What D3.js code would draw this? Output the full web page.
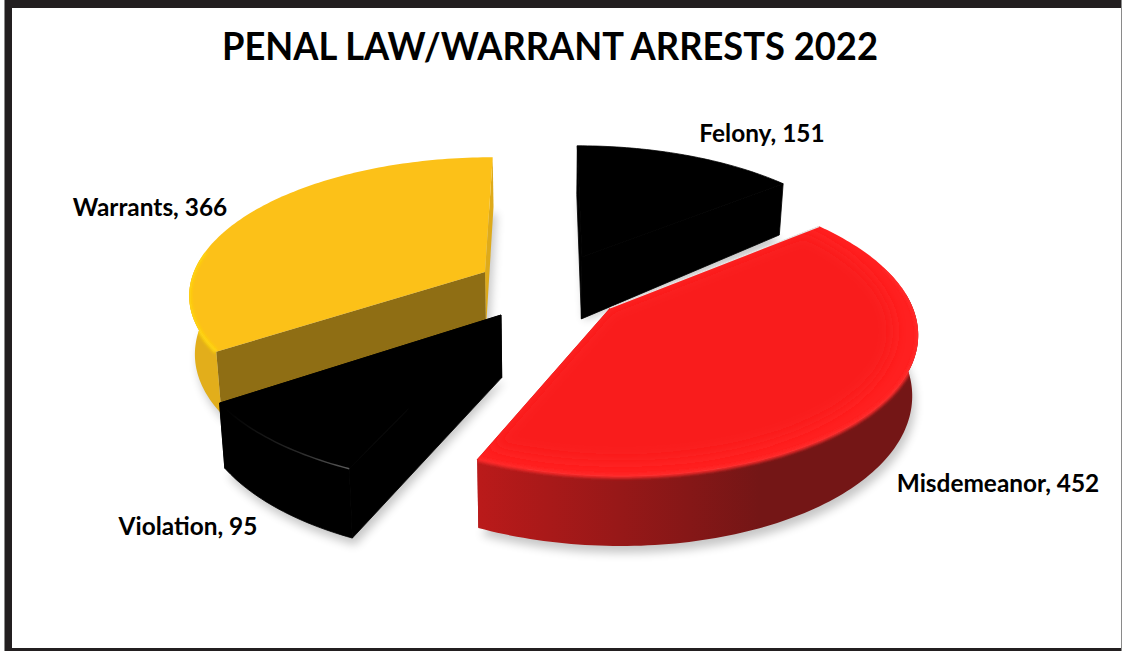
<!DOCTYPE html>
<html>
<head>
<meta charset="utf-8">
<script src="https://cdn.jsdelivr.net/npm/d3@7"></script>
<style>
  html, body { margin: 0; padding: 0; background: #fff; }
  svg { display: block; }
  text { font-family: Lato, "Open Sans", sans-serif; font-weight: 700; fill: #000; }
</style>
</head>
<body>
<svg width="1122" height="651"></svg>
<script>
var categories = ["Felony", "Misdemeanor", "Violation", "Warrants"];
var values = [151, 452, 95, 366];

// screen position of each slice's tip, and of its label
var tips = [[582, 257], [610, 308], [501, 315], [485, 272]];
var tipDrop = [6, 0, 3, 0];
var labelPos = [[762, 142], [998, 492], [188, 535], [150, 216]];

var topColors = ["#000000", "#f91c1c", "#000000", "#fcc118"];
var baseColors = ["#000000", "#ff2020", "#000000", "#fcc118"];
var rimColors = ["#000000", "#ff2a2a", "#000000", "#ffd60a"];
var wallColors = ["#000000", "url(#redWall)", "#000000", "#e2ae1b"];
var cutColors = ["#000000", "#a81818", "#000000", "#8f6e14"];
var edgeColors = ["#000000", "#a81818", "#000000", "#deaa1a"];

// perspective of the pie plane
var cx = 545, cy = 290, rx = 297, ry = 137, persp = 0.15, depth = 58, shrink = 0.016;

function project(u, v, drop) {
    var w = 1 - persp * v;
    var x = rx * u / w;
    return [cx + x * (drop ? 1 - shrink : 1), cy + ry * v / w + (drop ? depth / w : 0)];
}

function offsetFromTip(tip) {
    var Y = tip[1] - cy;
    var v = Y / (ry + persp * Y);
    var u = (tip[0] - cx) * (1 - persp * v) / rx;
    return [u, v];
}

var pie = d3.pie().sort(null).startAngle(0).endAngle(2 * Math.PI);
var line = d3.line();

var slices = pie(values).map(function(d, i) {
    return {
        i: i,
        start: d.startAngle,
        end: d.endAngle,
        off: offsetFromTip(tips[i])
    };
});

function rimPoint(s, a, scale, drop) {
    return project(s.off[0] + scale * Math.sin(a), s.off[1] - scale * Math.cos(a), drop);
}

function rim(s, scale, drop, from, to) {
    var a0 = from === undefined ? s.start : from;
    var a1 = to === undefined ? s.end : to;
    var n = Math.ceil((a1 - a0) / 0.02);
    return d3.range(n + 1).map(function(k) {
        return rimPoint(s, a0 + (a1 - a0) * k / n, scale, drop);
    });
}

function topPath(s, scale, drop) {
    return line([project(s.off[0], s.off[1], drop)].concat(rim(s, scale === undefined ? 1 : scale, drop))) + "Z";
}

function wallPath(s) {
    // only the part of the rim that faces the viewer
    var a0 = Math.max(s.start, Math.PI / 2 - 0.1);
    var a1 = Math.min(s.end, 3 * Math.PI / 2 + 0.1);
    if (a1 <= a0) return "";
    return line(rim(s, 1, false, a0, a1).concat(rim(s, 1, true, a0, a1).reverse())) + "Z";
}

function cutPath(s, a) {
    var low = project(s.off[0], s.off[1], true);
    low[1] += tipDrop[s.i];
    return line([
        project(s.off[0], s.off[1], false),
        rimPoint(s, a, 1, false),
        rimPoint(s, a, 1, true),
        low
    ]) + "Z";
}

var svg = d3.select("svg");
var defs = svg.append("defs");

function blur(id, amount) {
    defs.append("filter").attr("id", id)
        .attr("x", "-20%").attr("y", "-20%").attr("width", "140%").attr("height", "140%")
        .append("feGaussianBlur").attr("stdDeviation", amount);
}
blur("soft", 5);
blur("soft2", 1.5);
blur("soft3", 7);

var redWall = defs.append("linearGradient").attr("id", "redWall")
    .attr("gradientUnits", "userSpaceOnUse")
    .attr("x1", 478).attr("y1", 0).attr("x2", 760).attr("y2", 0);
redWall.append("stop").attr("offset", 0).attr("stop-color", "#ba1a1a");
redWall.append("stop").attr("offset", 1).attr("stop-color", "#741616");

var glint = defs.append("linearGradient").attr("id", "glint")
    .attr("gradientUnits", "userSpaceOnUse")
    .attr("x1", 225).attr("y1", 0).attr("x2", 350).attr("y2", 0);
glint.append("stop").attr("offset", 0).attr("stop-color", "#000");
glint.append("stop").attr("offset", 0.6).attr("stop-color", "#2a2a2a");
glint.append("stop").attr("offset", 1).attr("stop-color", "#5c5c5c");

// frame
svg.append("rect").attr("x", 4).attr("y", 0).attr("width", 1118).attr("height", 651).attr("fill", "#8a8a8a");
svg.append("rect").attr("x", 5).attr("y", 0).attr("width", 1116).attr("height", 651).attr("fill", "#231f20");
svg.append("rect").attr("x", 12).attr("y", 8).attr("width", 1109).attr("height", 640).attr("fill", "#fff");

// soft shadows under the slices
svg.append("g").selectAll("path").data(slices).join("path")
    .attr("d", function(d) { return topPath(d, 1.0, true); })
    .attr("transform", "translate(3,7)")
    .attr("fill", "#000")
    .attr("opacity", 0.22)
    .attr("filter", "url(#soft)");

// back slices first so nearer ones cover them
var order = [0, 3, 2, 1];
var groups = svg.append("g").selectAll("g").data(order.map(function(i) { return slices[i]; })).join("g");

// clip the bevel to the slice itself so it does not glow outside
defs.selectAll("clipPath").data(slices).join("clipPath")
    .attr("id", function(d) { return "clip" + d.i; })
    .each(function(d) {
        d3.select(this).append("path").attr("d", topPath(d));
        d3.select(this).append("path").attr("d", wallPath(d));
    });

function strokeBlack(sel) {
    // black faces get a thin stroke to close the seams between them
    return sel.attr("stroke", function(d) { return topColors[d.i] === "#000000" ? "#000" : "none"; })
        .attr("stroke-width", 0.8);
}

groups.append("path")
    .attr("d", function(d) { return cutPath(d, d.end); })
    .attr("fill", function(d) { return edgeColors[d.i]; })
    .call(strokeBlack);
groups.append("path")
    .attr("d", function(d) { return cutPath(d, d.start); })
    .attr("fill", function(d) { return cutColors[d.i]; })
    .call(strokeBlack);
groups.append("path")
    .attr("d", wallPath)
    .attr("fill", function(d) { return wallColors[d.i]; })
    .call(strokeBlack);

groups.append("path")
    .attr("d", function(d) { return topPath(d); })
    .attr("fill", function(d) { return baseColors[d.i]; })
    .call(strokeBlack);

// flat inner part of the top face
groups.filter(function(d) { return d.i === 1; }).append("path")
    .attr("d", function(d) { return topPath(d, 0.92); })
    .attr("fill", function(d) { return topColors[d.i]; })
    .attr("filter", "url(#soft3)")
    .attr("clip-path", function(d) { return "url(#clip" + d.i + ")"; });

// bevel along the front of the rim
groups.filter(function(d) { return d.i === 1 || d.i === 3; }).append("path")
    .attr("d", function(d) {
        var a0 = Math.max(d.start, Math.PI / 2 - 0.3);
        var a1 = d.i === 3 ? d.start + 0.75 : d.end;
        return line(rim(d, 1, false, a0, a1));
    })
    .attr("fill", "none")
    .attr("stroke", function(d) { return rimColors[d.i]; })
    .attr("stroke-width", 4)
    .attr("filter", "url(#soft2)")
    .attr("clip-path", function(d) { return "url(#clip" + d.i + ")"; });

// thin light line on the Violation rim
svg.append("path")
    .attr("d", line(rim(slices[2], 1, false)))
    .attr("fill", "none")
    .attr("stroke", "url(#glint)")
    .attr("stroke-width", 1.4);

// white hairline between Felony and Misdemeanor
svg.append("path")
    .attr("d", line([project(slices[1].off[0], slices[1].off[1], false), rimPoint(slices[1], slices[1].start, 1, false)]))
    .attr("stroke", "#e8e8e8")
    .attr("stroke-width", 1.2);

svg.append("text")
    .attr("x", 550).attr("y", 60)
    .attr("text-anchor", "middle")
    .attr("font-size", 38)
    .attr("textLength", 656)
    .attr("lengthAdjust", "spacingAndGlyphs")
    .text("PENAL LAW/WARRANT ARRESTS 2022");

svg.append("g").selectAll("text").data(categories).join("text")
    .attr("x", function(d, i) { return labelPos[i][0]; })
    .attr("y", function(d, i) { return labelPos[i][1]; })
    .attr("text-anchor", "middle")
    .attr("font-size", 24.4)
    .text(function(d, i) { return d + ", " + values[i]; });
</script>
</body>
</html>
